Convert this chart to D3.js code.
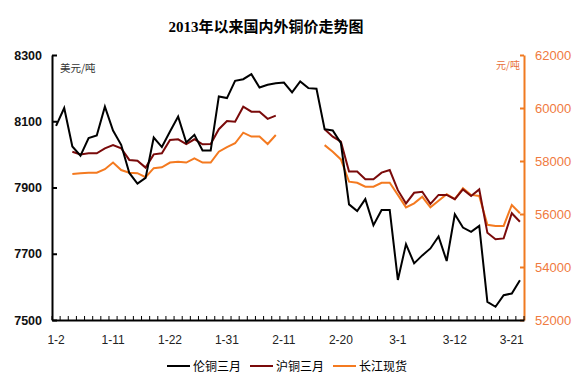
<!DOCTYPE html>
<html><head><meta charset="utf-8">
<script src="https://cdn.jsdelivr.net/npm/d3@7"></script>
<style>body{margin:0;background:#fff}svg{display:block}</style>
</head><body><svg id="c" width="581" height="381"></svg>
<script>
const dates = ["1-2","1-3","1-4","1-7","1-8","1-9","1-10","1-11","1-14","1-15","1-16","1-17","1-18","1-21","1-22","1-23","1-24","1-25","1-28","1-29","1-30","1-31","2-1","2-4","2-5","2-6","2-7","2-8","2-11","2-12","2-13","2-14","2-15","2-18","2-19","2-20","2-21","2-22","2-25","2-26","2-27","2-28","3-1","3-4","3-5","3-6","3-7","3-8","3-11","3-12","3-13","3-14","3-15","3-18","3-19","3-20","3-21","3-22"];
const tickDates = ["1-2","1-11","1-22","1-31","2-11","2-20","3-1","3-12","3-21"];
const lme = [8086,8140,8024,7996,8049,8057,8144,8072,8029,7944,7912,7929,8051,8022,8069,8114,8036,8059,8012,8012,8175,8170,8222,8227,8242,8202,8210,8215,8217,8187,8220,8200,8198,8076,8072,8034,7849,7829,7865,7786,7832,7832,7621,7729,7671,7695,7716,7752,7678,7819,7779,7766,7784,7555,7540,7575,7580,7620];
const shfe = [null,null,58350,58250,58290,58290,58480,58600,58480,58040,58010,57750,58250,58290,58790,58820,58640,58820,58630,58640,59200,59510,59480,60050,59860,59860,59590,59710,null,null,null,null,null,59200,58920,58730,57600,57600,57310,57310,57560,57660,56900,56400,56800,56840,56380,56720,56720,56560,56930,56680,56930,55290,55050,55080,56030,55710];
const cj = [null,null,57510,57540,57560,57560,57690,57940,57660,57560,57540,57390,57730,57760,57940,57970,57940,58100,57940,57940,58350,58520,58670,59070,58920,58920,58640,58980,null,null,null,null,null,58600,58350,58060,57220,57180,57030,57030,57180,57180,56720,56250,56400,56650,56250,56500,56750,56560,56970,56720,56680,55590,55550,55550,56340,56030];
const leftTicks = [7500,7700,7900,8100,8300];
const rightTicks = [52000,54000,56000,58000,60000,62000];
const seriesNames = ["伦铜三月","沪铜三月","长江现货"];
const seriesColors = ["#000000","#7a0a0a","#f47a20"];

const svg = d3.select("#c");
const L = 52, R = 524, T = 55, B = 320;
const x = d3.scaleBand().domain(dates).range([L, R]).padding(0);
const yL = d3.scaleLinear().domain([7500, 8300]).range([B, T]);
const yR = d3.scaleLinear().domain([52000, 62000]).range([B, T]);
const cx = d => x(d) + x.bandwidth() / 2;

// title
svg.append("text").attr("x", 266).attr("y", 32).attr("text-anchor", "middle")
  .style("font-family", "'Liberation Serif','Noto Sans CJK SC'").style("font-weight", "bold")
  .style("font-size", "15px").text("2013年以来国内外铜价走势图");

// left axis
const gl = svg.append("g").attr("transform", `translate(${L},0)`)
  .call(d3.axisLeft(yL).tickValues(leftTicks).tickSize(-5).tickSizeOuter(0).tickPadding(10).tickFormat(d3.format("d")));
gl.select(".domain").attr("stroke", "#000").attr("stroke-width", 2);
gl.selectAll(".tick line").attr("stroke", "#000").attr("stroke-width", 2);
gl.selectAll("text").style("font-family", "Arial, 'Liberation Sans'").style("font-size", "12.5px").style("font-weight", "bold").attr("fill", "#111");

// right axis
const gr = svg.append("g").attr("transform", `translate(${R},0)`)
  .call(d3.axisRight(yR).tickValues(rightTicks).tickSize(-4).tickSizeOuter(0).tickPadding(11).tickFormat(d3.format("d")));
gr.select(".domain").attr("stroke", "#f07a20").attr("stroke-width", 2);
gr.selectAll(".tick line").attr("stroke", "#f07a20").attr("stroke-width", 2);
gr.selectAll("text").style("font-family", "Arial, 'Liberation Sans'").style("font-size", "13px").attr("fill", "#f07a40");

// bottom axis
const gb = svg.append("g").attr("transform", `translate(0,${B})`)
  .call(d3.axisBottom(x).tickValues(tickDates).tickSize(0).tickPadding(15));
gb.select(".domain").attr("stroke", "#000").attr("stroke-width", 2);
gb.selectAll("text").style("font-family", "Arial, 'Liberation Sans'").style("font-size", "12px").attr("fill", "#222");
const bounds = dates.map(d => x(d)).concat([R]);
svg.append("g").selectAll("line").data(bounds).join("line")
  .attr("x1", d => d).attr("x2", d => d).attr("y1", B).attr("y2", B - 4)
  .attr("stroke", "#000").attr("stroke-width", 1);

// unit labels
svg.append("text").attr("x", 60).attr("y", 72).style("font-family", "'Noto Sans CJK SC'")
  .style("font-size", "10.5px").attr("fill", "#333").text("美元/吨");
svg.append("text").attr("x", 520).attr("y", 69).attr("text-anchor", "end").style("font-family", "'Noto Sans CJK SC'")
  .style("font-size", "10px").attr("fill", "#e8703a").text("元/吨");

// lines
const lineL = d3.line().defined(d => d != null).x((d, i) => cx(dates[i])).y(d => yL(d));
const lineR = d3.line().defined(d => d != null).x((d, i) => cx(dates[i])).y(d => yR(d));
svg.append("path").datum(cj).attr("d", lineR).attr("fill", "none").attr("stroke", seriesColors[2]).attr("stroke-width", 2);
svg.append("path").datum(shfe).attr("d", lineR).attr("fill", "none").attr("stroke", seriesColors[1]).attr("stroke-width", 2);
svg.append("path").datum(lme).attr("d", lineL).attr("fill", "none").attr("stroke", seriesColors[0]).attr("stroke-width", 2);

// legend
const legX = [167, 250, 333];
const lg = svg.append("g");
seriesNames.forEach((n, i) => {
  lg.append("line").attr("x1", legX[i]).attr("x2", legX[i] + 23).attr("y1", 366).attr("y2", 366)
    .attr("stroke", seriesColors[i]).attr("stroke-width", 2);
  lg.append("text").attr("x", legX[i] + 26).attr("y", 371).style("font-family", "'Noto Sans CJK SC'")
    .style("font-size", "12px").attr("fill", "#000").text(n);
});
</script>
</body></html>
